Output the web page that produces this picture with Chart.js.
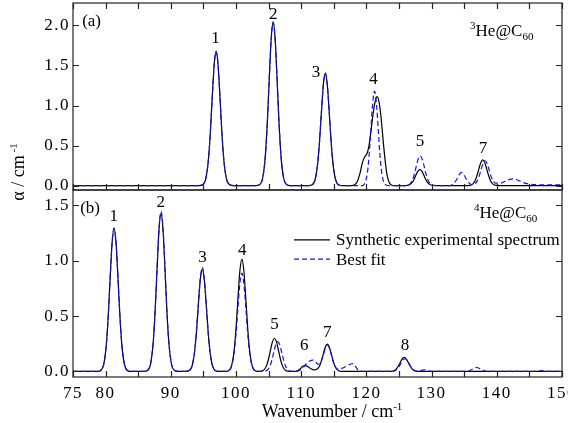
<!DOCTYPE html>
<html><head><meta charset="utf-8">
<script src="https://cdn.jsdelivr.net/npm/chart.js@4.4.1/dist/chart.umd.min.js"></script>
<style>html,body{margin:0;padding:0;background:#fff;}#wrap{width:568px;height:423px;position:relative;}</style>
</head><body><div id="wrap"><canvas id="c" width="568" height="423"></canvas></div>
<script>
// ---------- Panel (a): 3He@C60 ----------
const aExpX = [75,94.3,94.85,95.35,95.75,96.05,96.35,96.65,96.95,97.25,97.55,97.85,98.15,98.55,99.05,99.6,
  103.0,103.6,104.1,104.5,104.8,105.1,105.4,105.7,106.0,106.3,106.6,106.9,107.3,107.8,108.3,
  111.0,111.6,112.1,112.5,112.8,113.1,113.4,113.7,114.0,114.3,114.6,114.9,115.3,115.8,116.3,
  117.7,118.2,118.6,119.0,119.4,119.75,120.1,120.4,120.7,121.0,121.35,121.65,121.95,122.25,122.55,122.85,123.15,123.5,123.9,124.4,
  126.0,126.1,126.6,127.0,127.3,127.6,127.9,128.2,128.5,128.8,129.1,129.4,129.8,130.3,130.8,
  135.5,135.75,136.25,136.65,136.95,137.25,137.55,137.85,138.15,138.45,138.75,139.05,139.45,139.95,140.5,150];
const aExpY = [0,0,0.009,0.080,0.305,0.642,1.094,1.506,1.675,1.506,1.094,0.642,0.305,0.080,0.009,0,
  0,0.011,0.098,0.371,0.781,1.332,1.834,2.04,1.834,1.332,0.781,0.371,0.098,0.011,0,
  0,0.008,0.067,0.256,0.538,0.917,1.263,1.405,1.263,0.917,0.538,0.256,0.067,0.008,0,
  0,0.01,0.05,0.15,0.29,0.36,0.40,0.50,0.68,0.88,1.05,1.11,1.04,0.85,0.58,0.33,0.14,0.04,0.005,0,
  0,0.001,0.010,0.036,0.077,0.131,0.180,0.200,0.180,0.131,0.077,0.036,0.010,0.001,0,
  0,0.002,0.015,0.058,0.123,0.209,0.288,0.32,0.288,0.209,0.123,0.058,0.015,0.002,0,0];
const aFitX = [75,94.3,94.85,95.35,95.75,96.05,96.35,96.65,96.95,97.25,97.55,97.85,98.15,98.55,99.05,99.6,
  103.0,103.6,104.1,104.5,104.8,105.1,105.4,105.7,106.0,106.3,106.6,106.9,107.3,107.8,108.3,
  111.0,111.6,112.1,112.5,112.8,113.1,113.4,113.7,114.0,114.3,114.6,114.9,115.3,115.8,116.3,
  119.4,119.6,119.9,120.25,120.6,120.9,121.25,121.6,121.95,122.25,122.6,123.0,123.5,
  126.0,126.15,126.65,127.05,127.35,127.65,127.95,128.25,128.55,128.85,129.15,129.45,129.85,130.35,130.9,
  132.8,133.3,133.8,134.2,134.6,135.0,135.4,135.8,136.2,136.6,137.0,137.3,137.6,137.9,138.2,138.5,138.8,139.1,139.4,139.8,
  140.5,141.3,142.0,142.5,143.2,144.0,145.0,146.0,150];
const aFitY = [0,0,0.009,0.080,0.305,0.642,1.094,1.506,1.675,1.506,1.094,0.642,0.305,0.080,0.009,0,
  0,0.011,0.098,0.371,0.781,1.332,1.834,2.04,1.834,1.332,0.781,0.371,0.098,0.011,0,
  0,0.008,0.067,0.256,0.538,0.917,1.263,1.405,1.263,0.917,0.538,0.256,0.067,0.008,0,
  0,0.01,0.058,0.226,0.587,0.964,1.18,0.964,0.525,0.226,0.058,0.008,0,
  0,0.002,0.018,0.067,0.142,0.242,0.333,0.37,0.333,0.242,0.142,0.067,0.018,0.002,0,
  0,0.02,0.07,0.13,0.165,0.13,0.07,0.028,0.012,0.02,0.056,0.119,0.202,0.279,0.31,0.279,0.202,0.119,0.06,0.03,
  0.03,0.055,0.078,0.085,0.07,0.04,0.02,0.012,0.008];

// ---------- Panel (b): 4He@C60 ----------
const bExpX = [75,79.0,79.2,79.7,80.1,80.4,80.7,81.0,81.3,81.6,81.9,82.2,82.5,82.9,83.4,83.9,
  85.9,86.4,86.9,87.3,87.6,87.9,88.2,88.5,88.8,89.1,89.4,89.7,90.1,90.6,91.1,
  92.2,92.73,93.23,93.63,93.93,94.23,94.53,94.83,95.13,95.43,95.73,96.03,96.43,96.93,97.4,
  98.3,98.8,99.3,99.7,100.0,100.3,100.6,100.9,101.2,101.5,101.8,102.1,102.5,103.0,103.5,
  103.8,104.3,104.7,105.0,105.3,105.6,105.9,106.2,106.5,106.8,107.1,107.5,108.0,108.5,
  109.2,109.8,110.2,110.6,111.0,111.5,112.0,112.4,112.8,113.1,113.4,113.7,114.0,114.3,114.6,114.9,115.2,115.6,116.1,116.6,
  123.2,123.7,124.2,124.6,124.9,125.2,125.5,125.8,126.1,126.4,126.7,127.0,127.4,127.9,128.4,150];
const bExpY = [0,0,0.007,0.062,0.236,0.496,0.846,1.164,1.295,1.164,0.846,0.496,0.236,0.062,0.007,0,
  0,0.008,0.069,0.260,0.548,0.934,1.286,1.43,1.286,0.934,0.548,0.260,0.069,0.008,0,
  0,0.005,0.044,0.168,0.354,0.604,0.832,0.925,0.832,0.604,0.354,0.168,0.044,0.005,0,
  0,0.005,0.049,0.185,0.389,0.663,0.912,1.015,0.912,0.663,0.389,0.185,0.049,0.005,0,
  0.002,0.014,0.055,0.115,0.196,0.270,0.30,0.270,0.196,0.115,0.055,0.014,0.002,0,
  0.002,0.02,0.045,0.053,0.045,0.024,0.014,0.02,0.047,0.096,0.162,0.222,0.247,0.222,0.162,0.096,0.045,0.012,0.001,0,
  0,0.001,0.006,0.023,0.049,0.083,0.114,0.127,0.114,0.083,0.049,0.023,0.006,0.001,0,0];
const bFitX = [75,79.0,79.2,79.7,80.1,80.4,80.7,81.0,81.3,81.6,81.9,82.2,82.5,82.9,83.4,83.9,
  85.9,86.4,86.9,87.3,87.6,87.9,88.2,88.5,88.8,89.1,89.4,89.7,90.1,90.6,91.1,
  92.2,92.73,93.23,93.63,93.93,94.23,94.53,94.83,95.13,95.43,95.73,96.03,96.43,96.93,97.4,
  98.3,98.8,99.3,99.7,100.0,100.3,100.6,100.9,101.2,101.5,101.8,102.1,102.5,103.0,103.5,
  104.3,104.8,105.2,105.5,105.8,106.1,106.4,106.7,107.0,107.3,107.6,108.0,108.5,109.0,
  109.6,110.2,110.8,111.3,111.8,112.2,112.6,112.9,113.2,113.5,113.75,114.0,114.3,114.6,114.9,115.2,115.6,
  116.3,117.0,117.6,118.0,118.4,118.8,119.3,
  123.2,123.8,124.3,124.7,125.0,125.3,125.6,125.9,126.2,126.5,126.8,127.1,127.5,128.0,128.5,129.0,129.6,130.5,
  135.5,136.2,136.9,137.6,138.3,139.0,146.0,146.9,147.8,150];
const bFitY = [0,0,0.007,0.062,0.236,0.496,0.846,1.164,1.295,1.164,0.846,0.496,0.236,0.062,0.007,0,
  0,0.008,0.069,0.263,0.553,0.944,1.299,1.445,1.299,0.944,0.553,0.263,0.069,0.008,0,
  0,0.005,0.045,0.171,0.360,0.614,0.845,0.94,0.845,0.614,0.360,0.171,0.045,0.005,0,
  0,0.005,0.043,0.162,0.341,0.581,0.800,0.89,0.800,0.581,0.341,0.162,0.043,0.005,0,
  0.001,0.013,0.049,0.103,0.176,0.243,0.27,0.243,0.176,0.103,0.049,0.013,0.001,0,
  0.008,0.03,0.07,0.095,0.103,0.085,0.065,0.075,0.115,0.17,0.22,0.24,0.215,0.155,0.09,0.045,0.022,
  0.03,0.05,0.068,0.072,0.04,0.008,0,
  0,0.001,0.0055,0.021,0.044,0.075,0.103,0.115,0.103,0.075,0.044,0.021,0.0055,0.001,0.012,0.014,0.004,0,
  0,0.02,0.036,0.02,0.003,0,0,0.008,0,0];

// ---------- Labels ----------
const seriesNames = ['Synthetic experimental spectrum', 'Best fit'];
const peakLabelsA = ['1','2','3','4','5','7'];
const peakLabelXA = [96.86,105.72,112.27,121.09,128.22,137.88];
const peakLabelYA = [1.85,2.149,1.425,1.3375,0.561,0.4775];
const peakLabelsB = ['1','2','3','4','5','6','7','8'];
const peakLabelXB = [81.26,88.47,94.86,100.97,105.9,110.46,114.0,125.92];
const peakLabelYB = [1.408,1.539,1.042,1.101,0.429,0.241,0.361,0.243];
const xTickLabels = ['75','80','90','100','110','120','130','140','150'];

const FONT = 'Liberation Serif';
const pts = (xs, ys) => xs.map((x, i) => ({x: x, y: ys[i]}));

function rich(ctx, parts, x, y, align) {
  let w = 0;
  parts.forEach(p => { ctx.font = p.s + 'px "' + FONT + '", serif'; p.w = ctx.measureText(p.t).width; w += p.w; });
  let cx = align === 'center' ? x - w / 2 : x;
  parts.forEach(p => { ctx.font = p.s + 'px "' + FONT + '", serif'; ctx.fillText(p.t, cx, y + (p.dy || 0)); cx += p.w; });
}

const framePlugin = {
  id: 'frames',
  beforeDraw(chart) { chart.ctx.letterSpacing = '1.5px'; },
  afterDraw(chart) {
    const {ctx, scales} = chart;
    ctx.letterSpacing = '0px';
    const x = scales.x, A = scales.yA, B = scales.yB;
    ctx.save();
    ctx.strokeStyle = '#222'; ctx.lineWidth = 1.2;
    [A, B].forEach(s => ctx.strokeRect(x.left, s.top, x.right - x.left, s.bottom - s.top));
    const T = 6;
    ctx.beginPath();
    [A, B].forEach(s => s.ticks.forEach(t => {
      const py = Math.round(s.getPixelForValue(t.value)) + 0.5;
      ctx.moveTo(x.left, py); ctx.lineTo(x.left + T, py);
      ctx.moveTo(x.right, py); ctx.lineTo(x.right - T, py);
    }));
    x.ticks.forEach(t => {
      const px = Math.round(x.getPixelForValue(t.value)) + 0.5;
      ctx.moveTo(px, A.top); ctx.lineTo(px, A.top + T);
      ctx.moveTo(px, A.bottom); ctx.lineTo(px, A.bottom - T);
      ctx.moveTo(px, B.bottom); ctx.lineTo(px, B.bottom - T);
    });
    ctx.stroke();

    ctx.fillStyle = '#000';
    ctx.textBaseline = 'alphabetic';
    ctx.textAlign = 'left';
    const drawPeaks = (labels, xs, ys, s) => labels.forEach((l, i) => {
      rich(ctx, [{t: l, s: 17}], x.getPixelForValue(xs[i]), s.getPixelForValue(ys[i]) + 5.5, 'center');
    });
    drawPeaks(peakLabelsA, peakLabelXA, peakLabelYA, A);
    drawPeaks(peakLabelsB, peakLabelXB, peakLabelYB, B);
    rich(ctx, [{t: '(a)', s: 17}], x.getPixelForValue(76.4), A.getPixelForValue(2.065) + 5.5);
    rich(ctx, [{t: '(b)', s: 17}], x.getPixelForValue(76.1), B.getPixelForValue(1.483) + 5.5);
    rich(ctx, [{t: '3', s: 11, dy: -7}, {t: 'He@C', s: 17}, {t: '60', s: 11, dy: 3.5}], x.getPixelForValue(135.9), A.getPixelForValue(1.8625));
    rich(ctx, [{t: '4', s: 11, dy: -7}, {t: 'He@C', s: 17}, {t: '60', s: 11, dy: 3.5}], x.getPixelForValue(136.5), B.getPixelForValue(1.386));
    const ds = chart.data.datasets;
    [[ds[0], 1.189], [ds[1], 1.015]].forEach(([d, yv]) => {
      const py = B.getPixelForValue(yv);
      ctx.save();
      ctx.strokeStyle = d.borderColor; ctx.lineWidth = d.borderWidth; ctx.setLineDash(d.borderDash || []);
      ctx.beginPath(); ctx.moveTo(x.getPixelForValue(108.9), py); ctx.lineTo(x.getPixelForValue(114.42), py); ctx.stroke();
      ctx.restore();
      rich(ctx, [{t: d.label, s: 17}], x.getPixelForValue(115.34), py + 5.5);
    });
    rich(ctx, [{t: 'Wavenumber / cm', s: 18}, {t: '-1', s: 11, dy: -7}], 332, 416.5, 'center');
    ctx.save();
    ctx.translate(18, 172); ctx.rotate(-Math.PI / 2);
    rich(ctx, [{t: 'α / cm', s: 18}, {t: ' -1', s: 11, dy: -7}], 0, 6, 'center');
    ctx.restore();
    ctx.restore();
  }
};

const tickFont = {family: '"Liberation Serif", serif', size: 17};
const yScale = (min, max) => ({
  type: 'linear', position: 'left', stack: 'panels', stackWeight: 1, min: min, max: max,
  afterFit(s) { s.width = 73; s.paddingTop = 0; s.paddingBottom = 0; s.paddingLeft = 0; s.paddingRight = 0; },
  grid: {display: false, drawTicks: false}, border: {display: false},
  ticks: {stepSize: 0.5, includeBounds: false, padding: 3, font: tickFont, color: '#000',
    callback: v => Number(v).toFixed(1)}
});

new Chart(document.getElementById('c'), {
  type: 'line',
  data: {
    datasets: [
      {label: seriesNames[0], data: pts(aExpX, aExpY), yAxisID: 'yA', borderColor: '#000000', borderWidth: 1.2, order: 2},
      {label: seriesNames[1], data: pts(aFitX, aFitY), yAxisID: 'yA', borderColor: '#1010ee', borderWidth: 1.2, borderDash: [5, 3], order: 1},
      {label: seriesNames[0], data: pts(bExpX, bExpY), yAxisID: 'yB', borderColor: '#000000', borderWidth: 1.2, order: 2},
      {label: seriesNames[1], data: pts(bFitX, bFitY), yAxisID: 'yB', borderColor: '#1010ee', borderWidth: 1.2, borderDash: [5, 3], order: 1}
    ]
  },
  options: {
    responsive: false, animation: false, devicePixelRatio: 1,
    layout: {autoPadding: false, padding: {left: 0, top: 3, right: 6, bottom: 0}},
    elements: {point: {radius: 0}, line: {cubicInterpolationMode: 'monotone', fill: false}},
    plugins: {legend: {display: false}, tooltip: {enabled: false}},
    scales: {
      x: {type: 'linear', position: 'bottom', min: 75, max: 150,
        afterFit(s) { s.height = 46; s.paddingLeft = 0; s.paddingRight = 0; s.paddingTop = 0; s.paddingBottom = 0; },
        grid: {display: false, drawTicks: false}, border: {display: false},
        ticks: {stepSize: 5, autoSkip: false, maxRotation: 0, padding: 6, font: tickFont, color: '#000',
          callback: v => xTickLabels.includes(String(v)) ? String(v) : ''}},
      yB: yScale(-0.05, 1.64),
      yA: yScale(-0.055, 2.28)
    }
  },
  plugins: [framePlugin]
});
</script></body></html>
